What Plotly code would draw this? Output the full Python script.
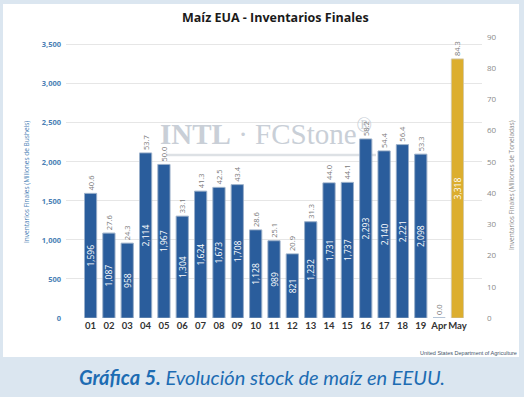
import plotly.graph_objects as go

categories = ["01", "02", "03", "04", "05", "06", "07", "08", "09", "10",
              "11", "12", "13", "14", "15", "16", "17", "18", "19", "Apr", "May"]
bushels = [1596, 1087, 958, 2114, 1967, 1304, 1624, 1673, 1708, 1128,
           989, 821, 1232, 1731, 1737, 2293, 2140, 2221, 2098, 0, 3318]
tonnes = [40.6, 27.6, 24.3, 53.7, 50.0, 33.1, 41.3, 42.5, 43.4, 28.6,
          25.1, 20.9, 31.3, 44.0, 44.1, 58.2, 54.4, 56.4, 53.3, 0.0, 84.3]
left_ticks = [0, 500, 1000, 1500, 2000, 2500, 3000, 3500]
right_ticks = [0, 10, 20, 30, 40, 50, 60, 70, 80, 90]

W, H = 524, 397
ML, MR, MT, MB = 66, 42, 37, 79
PW, PH = W - ML - MR, H - MT - MB


def px(x):
    return (x - ML) / PW


def py(y):
    return (H - MB - y) / PH


colors = ["#2a5d9c"] * (len(categories) - 1) + ["#dcae2e"]
line_colors = ["#1f4a80"] * (len(categories) - 1) + ["#b58d2a"]
inner_text = [f"{v:,}" if v > 0 else "" for v in bushels]
outer_text = [f"{v:.1f}" for v in tonnes]

fig = go.Figure()
# watermark in the base subplot so it sits behind the bars
fig.add_trace(go.Scatter(
    x=[px(266)], y=[py(137)], xaxis="x", yaxis="y", mode="text",
    text=["<b>INTL</b> · FCStone<sup>®</sup>"],
    textfont=dict(family="Liberation Serif", size=29, color="#c9cfd7"),
    hoverinfo="skip", showlegend=False))
fig.add_trace(go.Bar(
    x=categories, y=bushels, xaxis="x2", yaxis="y2",
    marker=dict(color=colors, line=dict(color=line_colors, width=0.6)),
    text=inner_text, textposition="inside", insidetextanchor="middle", textangle=-90,
    textfont=dict(family="Open Sans", size=8.5, color="white"), constraintext="none",
    hoverinfo="skip", showlegend=False))
fig.add_trace(go.Bar(
    x=categories, y=bushels, xaxis="x2", yaxis="y2", marker=dict(color="rgba(0,0,0,0)"),
    text=outer_text, textposition="outside", textangle=-90,
    textfont=dict(family="Open Sans", size=7.5, color="#7a7a7a"), constraintext="none",
    cliponaxis=False, hoverinfo="skip", showlegend=False))
fig.add_trace(go.Scatter(
    x=categories, y=tonnes, xaxis="x2", yaxis="y3", mode="markers", marker=dict(opacity=0),
    hoverinfo="skip", showlegend=False))

shapes = [
    dict(type="rect", xref="paper", yref="paper", x0=px(3), x1=px(519), y0=py(357), y1=py(4),
         fillcolor="white", line=dict(width=0), layer="below"),
    dict(type="line", xref="paper", yref="paper", x0=px(167), x1=px(376), y0=py(155), y1=py(155),
         line=dict(color="#dde1e5", width=2.5), layer="below"),
]

annotations = [
    dict(text="<b>Maíz EUA - Inventarios Finales</b>", xref="paper", yref="paper",
         x=px(275), y=py(17), xanchor="center", yanchor="middle", showarrow=False,
         font=dict(family="Open Sans", size=12.5, color="#1a1a1a")),
    dict(text="Inventarios Finales (Millones de Bushels)", xref="paper", yref="paper",
         x=px(26), y=py(182), xanchor="center", yanchor="middle", textangle=-90, showarrow=False,
         font=dict(family="Open Sans", size=6.5, color="#4a7fb5")),
    dict(text="Inventarios Finales (Millones de Toneladas)", xref="paper", yref="paper",
         x=px(511), y=py(185), xanchor="center", yanchor="middle", textangle=-90, showarrow=False,
         font=dict(family="Open Sans", size=6.5, color="#8a8a8a")),
    dict(text="United States Department of Agriculture", xref="paper", yref="paper",
         x=px(519), y=py(353), xanchor="right", yanchor="middle", showarrow=False,
         font=dict(family="Liberation Sans Narrow, Liberation Sans", size=5.5, color="#44556a")),
    dict(text="<b><i>Gráfica 5.</i></b><i> Evolución stock de maíz en EEUU.</i>", xref="paper", yref="paper",
         x=px(262), y=py(377), xanchor="center", yanchor="middle", showarrow=False,
         font=dict(family="Lato", size=20, color="#1d6cb3")),
]

fig.update_layout(
    width=W, height=H, margin=dict(l=ML, r=MR, t=MT, b=MB),
    paper_bgcolor="#dbe6f0", plot_bgcolor="rgba(0,0,0,0)",
    barmode="overlay", bargap=0.34,
    shapes=shapes, annotations=annotations,
    xaxis=dict(range=[0, 1], visible=False, fixedrange=True),
    yaxis=dict(range=[0, 1], visible=False, fixedrange=True),
    xaxis2=dict(type="category", overlaying="x", anchor="y2", side="bottom",
                tickfont=dict(family="Lato", size=9.5, color="#333333"),
                showgrid=False, showline=False, ticks="", tickangle=0,
                tickvals=categories, ticktext=[f"<b>{c}</b>" for c in categories]),
    yaxis2=dict(range=[0, 3600], overlaying="y", anchor="x2", side="left",
                tickvals=left_ticks, ticktext=[f"<b>{v:,}</b>" for v in left_ticks],
                tickfont=dict(family="Open Sans", size=7.5, color="#4a7fb5"),
                showgrid=True, gridcolor="#e6e6e6", gridwidth=1, zeroline=False, showline=False,
                ticks="", ticklabelstandoff=4),
    yaxis3=dict(range=[0, 90], tickvals=right_ticks, overlaying="y", anchor="x2", side="right",
                tickfont=dict(family="Open Sans", size=8, color="#8a8a8a"),
                showgrid=False, zeroline=False, showline=False, ticks="", ticklabelstandoff=4),
)

fig.write_html("out.html")
